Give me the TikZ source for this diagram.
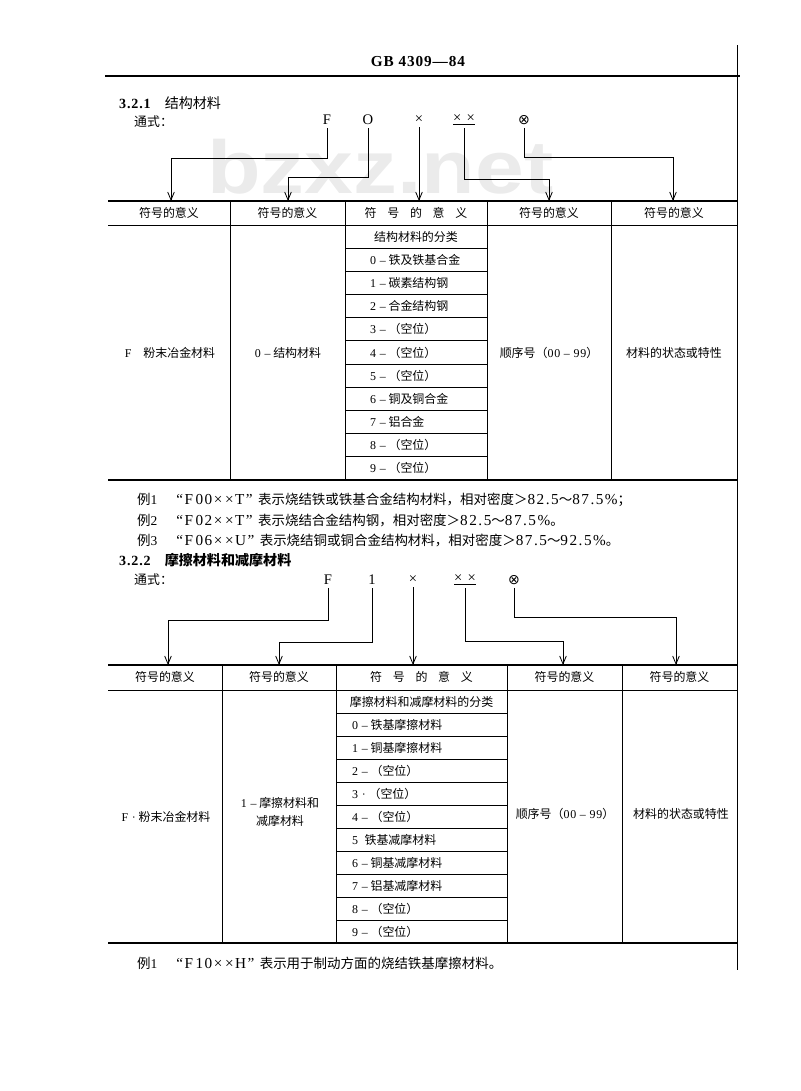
\documentclass[tikz,border=0pt]{standalone}
\usepackage{fontspec}
\setmainfont{Liberation Serif}
\newfontfamily\cjk{Noto Sans CJK SC}
\newfontfamily\latf[LetterSpace=6]{Liberation Serif}
\newfontfamily\latw[LetterSpace=10]{Liberation Serif}
\newfontfamily\symf{DejaVu Sans}
\newfontfamily\wmf[FakeStretch=1.17]{Liberation Sans}
\newcommand\lat[1]{{\latf #1}}
\newcommand\latb[1]{{\latw\fontsize{13}{15}\selectfont #1}}
\usetikzlibrary{arrows.meta, calc}

\tikzset{
    cell/.style={font=\cjk\fontsize{10.2}{12}\selectfont, inner sep=0pt},
    item/.style={cell, anchor=west},
    txt/.style={font=\cjk\fontsize{11.5}{13}\selectfont, inner sep=0pt, anchor=west},
    sec/.style={font=\cjk\fontsize{12}{14}\selectfont, inner sep=0pt, anchor=west},
    sym/.style={font=\fontsize{12.5}{14}\selectfont, inner sep=2.5pt},
    pick/.style={-{Straight Barb[length=2.4mm, width=2mm]}, line width=0.7pt},
    boldrule/.style={line width=1.6pt},
    cellrule/.style={line width=0.7pt},
}

\begin{document}
\begin{tikzpicture}[x=0.03cm, y=-0.03cm]
    \useasboundingbox (0,0) rectangle (800,1091);

    % watermark
    \node[font=\wmf\bfseries\fontsize{64}{64}\selectfont, text=gray!16, anchor=base west, inner sep=0pt] (wm) at (207,193) {bzxz.net};

    % page head and right edge
    \node[font=\latf\bfseries\fontsize{13}{15}\selectfont] (gb) at (418,62) {GB 4309—84};
    \draw[line width=1.2pt] (105,76) -- (740,76);
    \draw[cellrule] (737,45) -- (737,970);

    % 3.2.1 formula
    \node[sec] (sec1) at (119,103) {{\latf\bfseries 3.2.1}\quad 结构材料};
    \node[sec, font=\cjk\fontsize{11}{13}\selectfont] (gs1) at (134,122) {通式：};
    \node[sym] (f1a) at (327,120) {F};
    \node[sym] (f1b) at (368,120) {O};
    \node[sym] (f1c) at (419,120) {×};
    \node[sym] (f1d) at (464,120) {\underline{×\hspace{.35em}×}};
    \node[sym, font=\symf\fontsize{12}{14}\selectfont] (f1e) at (524,120) {⊗};

    \coordinate (t1a) at (171,201);
    \coordinate (t1b) at (288,201);
    \coordinate (t1c) at (f1c |- 0,201);
    \coordinate (t1d) at (549,201);
    \coordinate (t1e) at (673,201);
    \draw[pick] (f1a.south) -- (f1a.south |- 0,158) -| (t1a);
    \draw[pick] (f1b.south) -- (f1b.south |- 0,177) -| (t1b);
    \draw[pick] (f1c.south) -- (t1c);
    \draw[pick] (f1d.south) -- (f1d.south |- 0,179) -| (t1d);
    \draw[pick] (f1e.south) -- (f1e.south |- 0,157) -| (t1e);

    % table 1: rules
    \draw[boldrule] (108,201) -- (737,201);
    \draw[cellrule] (108,225) -- (737,225);
    \draw[boldrule] (108,480) -- (737,480);
    \foreach \x in {230,345,487,611}
        \draw[cellrule] (\x,201) -- (\x,480);
    \foreach \k in {1,...,10}
        \draw[cellrule] (345,{225+23.18*\k}) -- (487,{225+23.18*\k});

    % table 1: text
    \foreach \x/\n in {169/a, 287.5/b, 549/d, 674/e}
        \node[cell] (h1\n) at (\x,213) {符号的意义};
    \node[cell] (h1c) at (416,213) {符\hspace{.9em}号\hspace{.9em}的\hspace{.9em}意\hspace{.9em}义};
    \node[cell] (c1a) at (170,353) {\lat{F}\quad 粉末冶金材料};
    \node[cell] (c1b) at (288,353) {\lat{0 –} 结构材料};
    \node[cell] (c1d) at (549,353) {顺序号（\lat{00 – 99}）};
    \node[cell] (c1e) at (674,353) {材料的状态或特性};
    \node[cell] (k1) at (416,236.6) {结构材料的分类};
    \foreach \n/\s/\t [count=\k] in {0/–/铁及铁基合金, 1/–/碳素结构钢, 2/–/合金结构钢, 3/–/（空位）, 4/–/（空位）, 5/–/（空位）, 6/–/铜及铜合金, 7/–/铝合金, 8/–/（空位）, 9/–/（空位）}
        \node[item] (i1\k) at (370,{225+23.18*(\k+0.5)}) {\lat{\n\ \s}\ \t};

    % examples
    \node[txt] (ex1) at (137,500) {例\lat{1}\hspace{1.4em}\latb{“F\,00×\,×T”}\hspace{.4em}表示烧结铁或铁基合金结构材料，相对密度＞\latb{82.5}～\latb{87.5\%}；};
    \node[txt] (ex2) at (137,520) {例\lat{2}\hspace{1.4em}\latb{“F\,02×\,×T”}\hspace{.4em}表示烧结合金结构钢，相对密度＞\latb{82.5}～\latb{87.5\%}。};
    \node[txt] (ex3) at (137,540) {例\lat{3}\hspace{1.4em}\latb{“F\,06×\,×U”}\hspace{.4em}表示烧结铜或铜合金结构材料，相对密度＞\latb{87.5}～\latb{92.5\%}。};

    % 3.2.2 formula
    \node[sec] (sec2) at (119,560) {{\latf\bfseries 3.2.2}\quad\bfseries 摩擦材料和减摩材料};
    \node[sec, font=\cjk\fontsize{11}{13}\selectfont] (gs2) at (134,580) {通式：};
    \node[sym] (f2a) at (328,580) {F};
    \node[sym] (f2b) at (372,580) {1};
    \node[sym] (f2c) at (413,580) {×};
    \node[sym] (f2d) at (465,580) {\underline{×\hspace{.35em}×}};
    \node[sym, font=\symf\fontsize{12}{14}\selectfont] (f2e) at (514,580) {⊗};

    \coordinate (t2a) at (168,665);
    \coordinate (t2b) at (279,665);
    \coordinate (t2c) at (f2c |- 0,665);
    \coordinate (t2d) at (563,665);
    \coordinate (t2e) at (676,665);
    \draw[pick] (f2a.south) -- (f2a.south |- 0,620) -| (t2a);
    \draw[pick] (f2b.south) -- (f2b.south |- 0,642) -| (t2b);
    \draw[pick] (f2c.south) -- (t2c);
    \draw[pick] (f2d.south) -- (f2d.south |- 0,641) -| (t2d);
    \draw[pick] (f2e.south) -- (f2e.south |- 0,617) -| (t2e);

    % table 2: rules
    \draw[boldrule] (108,665) -- (737,665);
    \draw[cellrule] (108,690) -- (737,690);
    \draw[boldrule] (108,943) -- (737,943);
    \foreach \x in {222,336,507,622}
        \draw[cellrule] (\x,665) -- (\x,943);
    \foreach \k in {1,...,10}
        \draw[cellrule] (336,{690+23*\k}) -- (507,{690+23*\k});

    % table 2: text
    \foreach \x/\n in {165/a, 279/b, 564.5/d, 679.5/e}
        \node[cell] (h2\n) at (\x,677) {符号的意义};
    \node[cell] (h2c) at (421.5,677) {符\hspace{.9em}号\hspace{.9em}的\hspace{.9em}意\hspace{.9em}义};
    \node[cell] (c2a) at (166,817) {\lat{F ·} 粉末冶金材料};
    \node[cell, align=center] (c2b) at (280,812) {\lat{1 –} 摩擦材料和\\[4pt]减摩材料};
    \node[cell] (c2d) at (565,814) {顺序号（\lat{00 – 99}）};
    \node[cell] (c2e) at (681,814) {材料的状态或特性};
    \node[cell] (k2) at (421.5,701.5) {摩擦材料和减摩材料的分类};
    \foreach \n/\s/\t [count=\k] in {0/–/铁基摩擦材料, 1/–/铜基摩擦材料, 2/–/（空位）, 3/·/（空位）, 4/–/（空位）, 5/{}/铁基减摩材料, 6/–/铜基减摩材料, 7/–/铝基减摩材料, 8/–/（空位）, 9/–/（空位）}
        \node[item] (i2\k) at (352,{690+23*(\k+0.5)}) {\lat{\n\ \s}\ \t};

    \node[txt] (ex4) at (137,963) {例\lat{1}\hspace{1.4em}\latb{“F\,10×\,×H”}\hspace{.4em}表示用于制动方面的烧结铁基摩擦材料。};
\end{tikzpicture}
\end{document}
